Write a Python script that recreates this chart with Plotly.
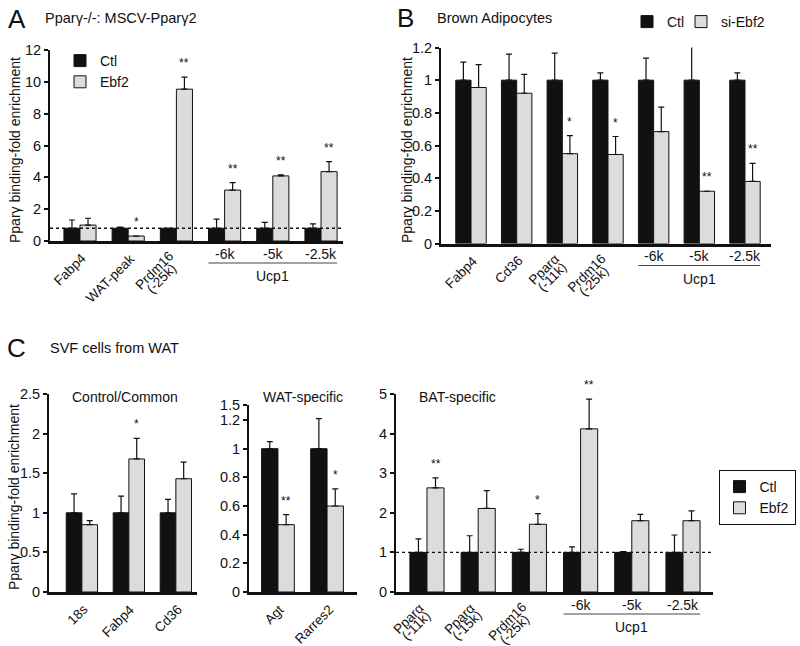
import plotly.graph_objects as go

# ---------------- data ----------------
A_cats = ["Fabp4", "WAT-peak", "Prdm16<br>(-25k)", "-6k", "-5k", "-2.5k"]
A_ctl = [0.8, 0.8, 0.8, 0.8, 0.8, 0.8]
A_ctl_err = [0.52, 0.07, 0.0, 0.58, 0.37, 0.27]
A_ebf = [1.0, 0.31, 9.54, 3.2, 4.09, 4.36]
A_ebf_err = [0.43, 0.0, 0.75, 0.47, 0.06, 0.63]
A_sig = ["", "*", "**", "**", "**", "**"]
A_base = 0.8

B_cats = ["Fabp4", "Cd36", "Pparα<br>(-11k)", "Prdm16<br>(-25k)", "-6k", "-5k", "-2.5k"]
B_ctl = [1, 1, 1, 1, 1, 1, 1]
B_ctl_err = [0.11, 0.16, 0.165, 0.045, 0.135, 0.21, 0.045]
B_ebf = [0.955, 0.92, 0.55, 0.545, 0.685, 0.32, 0.38]
B_ebf_err = [0.14, 0.115, 0.11, 0.11, 0.15, 0.0, 0.11]
B_sig = ["", "", "*", "*", "", "**", "**"]

C1_cats = ["18s", "Fabp4", "Cd36"]
C1_ctl = [1, 1, 1]
C1_ctl_err = [0.24, 0.21, 0.17]
C1_ebf = [0.85, 1.68, 1.43]
C1_ebf_err = [0.05, 0.26, 0.21]
C1_sig = ["", "*", ""]

C2_cats = ["Agt", "Rarres2"]
C2_ctl = [1, 1]
C2_ctl_err = [0.05, 0.21]
C2_ebf = [0.47, 0.6]
C2_ebf_err = [0.07, 0.12]
C2_sig = ["**", "*"]

C3_cats = ["Pparα<br>(-11k)", "Pparα<br>(-15k)", "Prdm16<br>(-25k)", "-6k", "-5k", "-2.5k"]
C3_ctl = [1, 1, 1, 1, 1, 1]
C3_ctl_err = [0.34, 0.42, 0.08, 0.14, 0.02, 0.44]
C3_ebf = [2.63, 2.11, 1.71, 4.12, 1.8, 1.8]
C3_ebf_err = [0.25, 0.45, 0.27, 0.75, 0.16, 0.25]
C3_sig = ["**", "", "*", "**", "", ""]
C3_base = 1.0

A_ticks = [0, 2, 4, 6, 8, 10, 12]
A_ticktext = ["0", "2", "4", "6", "8", "10", "12"]
B_ticks = [0, 0.2, 0.4, 0.6, 0.8, 1.0, 1.2]
B_ticktext = ["0", "0.2", "0.4", "0.6", "0.8", "1", "1.2"]
C1_ticks = [0, 0.5, 1, 1.5, 2, 2.5]
C1_ticktext = ["0", "0.5", "1", "1.5", "2", "2.5"]
C2_ticks = [0, 0.2, 0.4, 0.6, 0.8, 1.0, 1.2, 1.305]
C2_ticktext = ["0", "0.2", "0.4", "0.6", "0.8", "1", "1.2", "1.5"]
C3_ticks = [0, 1, 2, 3, 4, 5]
C3_ticktext = ["0", "1", "2", "3", "4", "5"]

YTITLE = "Ppar\u03b3 binding-fold enrichment"

# ---------------- styling ----------------
W, H = 800, 646
FONT = "Liberation Sans, Arial, sans-serif"
BLACK = "#111111"
GRAY = "#dcdcdc"
LBL = 13.5

CHAR_W = {"P": .667, "r": .333, "d": .556, "m": .833, "(": .333, ")": .333,
          "-": .333, "k": .5, "p": .556, "a": .556, "\u03b1": .6}


def text_w(s, size):
    return sum(CHAR_W.get(ch, .556) for ch in s) * size


def fx(px):
    return px / W


def fy(py):
    return 1 - py / H


fig = go.Figure()

panels = [
    ("", A_cats, A_ctl, A_ctl_err, A_ebf, A_ebf_err, A_sig, ("legend", "legend"), "Ebf2",
     (50, 343), (241, 50), [-0.622, 5.456], [0, 12], A_ticks, A_ticktext),
    ("2", B_cats, B_ctl, B_ctl_err, B_ebf, B_ebf_err, B_sig, ("legend2", "legend4"), "si-Ebf2",
     (441, 771), (243.5, 47.5), [-0.657, 6.57], [0, 1.2], B_ticks, B_ticktext),
    ("3", C1_cats, C1_ctl, C1_ctl_err, C1_ebf, C1_ebf_err, C1_sig, ("legend3", "legend3"), "Ebf2",
     (49, 197), (592, 394), [-0.70, 2.45], [0, 2.5], C1_ticks, C1_ticktext),
    ("4", C2_cats, C2_ctl, C2_ctl_err, C2_ebf, C2_ebf_err, C2_sig, None, "Ebf2",
     (249, 357), (592, 405), [-0.59, 1.61], [0, 1.305], C2_ticks, C2_ticktext),
    ("5", C3_cats, C3_ctl, C3_ctl_err, C3_ebf, C3_ebf_err, C3_sig, None, "Ebf2",
     (396, 713), (592, 394), [-0.605, 5.586], [0, 5], C3_ticks, C3_ticktext),
]

annotations = []
shapes = []
lblfont = dict(family=FONT, size=LBL, color=BLACK)

for (sfx, cats, ctl, ctl_err, ebf, ebf_err, sig, leg, ebf_name,
     xd, yd, xr, yr, ticks, ticktext) in panels:
    xs = list(range(len(cats)))
    xa = "x" + sfx
    ya = "y" + sfx
    show = leg is not None
    legs = leg if leg else ("legend", "legend")
    fig.add_trace(go.Bar(
        x=xs, y=ctl, name="Ctl", xaxis=xa, yaxis=ya,
        marker=dict(color=BLACK, line=dict(color=BLACK, width=1)),
        error_y=dict(type="data", symmetric=False, array=ctl_err,
                     arrayminus=[0] * len(ctl), color=BLACK, thickness=1.2, width=3),
        showlegend=show, legend=legs[0],
    ))
    fig.add_trace(go.Bar(
        x=xs, y=ebf, name=ebf_name, xaxis=xa, yaxis=ya,
        marker=dict(color=GRAY, line=dict(color=BLACK, width=1)),
        error_y=dict(type="data", symmetric=False, array=ebf_err,
                     arrayminus=[0] * len(ebf), color=BLACK, thickness=1.2, width=3),
        showlegend=show, legend=legs[1],
    ))
    fig.layout["xaxis" + sfx] = dict(
        domain=[fx(xd[0]), fx(xd[1])], range=xr, anchor=ya,
        showticklabels=False, ticks="", showgrid=False, zeroline=False,
        showline=True, linecolor=BLACK, linewidth=2.5, fixedrange=True,
    )
    fig.layout["yaxis" + sfx] = dict(
        domain=[fy(yd[0]), fy(yd[1])], range=yr, anchor=xa,
        tickvals=ticks, ticktext=ticktext, ticks="outside", ticklen=4,
        tickwidth=1.5, tickcolor=BLACK, showgrid=False, zeroline=False,
        showline=True, linecolor=BLACK, linewidth=2,
        tickfont=dict(family=FONT, size=14.5, color=BLACK),
    )
    for i, s in enumerate(sig):
        if s:
            annotations.append(dict(
                x=i + 1 / 6, y=ebf[i] + ebf_err[i], xref=xa, yref=ya,
                text=s, showarrow=False, yanchor="bottom", yshift=5,
                font=dict(family=FONT, size=12, color=BLACK),
            ))
    b = yd[0]
    sub = [i for i, c in enumerate(cats) if c.startswith("-")]
    for i, c in enumerate(cats):
        if c.startswith("-"):
            annotations.append(dict(
                x=i, y=fy(b + 13), xref=xa, yref="paper", text=c,
                showarrow=False, yanchor="middle", xanchor="center",
                font=dict(family=FONT, size=14, color=BLACK),
            ))
        elif "<br>" not in c:
            annotations.append(dict(
                x=i, y=fy(b), xref=xa, yref="paper", text=c, showarrow=False,
                yanchor="top", xanchor="right", textangle=-45,
                xshift=12, yshift=-7, font=lblfont,
            ))
        else:
            l1, l2 = c.split("<br>")
            d = (text_w(l1, LBL) - text_w(l2, LBL)) / 2 * 0.707
            for line, dx, dy in ((l1, 3, 5), (l2, 3 + 7 - d, 5 + 8 + d)):
                annotations.append(dict(
                    x=i, y=fy(b), xref=xa, yref="paper", text=line,
                    showarrow=False, yanchor="top", xanchor="right",
                    textangle=-45, xshift=dx, yshift=-dy, font=lblfont,
                ))
    if sub:
        shapes.append(dict(
            type="line", xref=xa, yref="paper",
            x0=sub[0] - 1 / 3, x1=sub[-1] + 1 / 3,
            y0=fy(b + 22), y1=fy(b + 22),
            line=dict(color="#444444", width=1),
        ))
        annotations.append(dict(
            x=sub[len(sub) // 2], y=fy(b + 35), xref=xa, yref="paper",
            text="Ucp1", showarrow=False, yanchor="middle",
            font=dict(family=FONT, size=14, color=BLACK),
        ))

shapes.append(dict(type="line", xref="x domain", yref="y", x0=0, x1=1,
                   y0=A_base, y1=A_base, layer="above",
                   line=dict(color=BLACK, width=1.3, dash="3px,3px")))
shapes.append(dict(type="line", xref="x5 domain", yref="y5", x0=0, x1=1,
                   y0=C3_base, y1=C3_base, layer="above",
                   line=dict(color=BLACK, width=1.3, dash="3px,3px")))


def txt(x, y, s, size, xanchor="left", angle=0):
    annotations.append(dict(x=fx(x), y=fy(y), xref="paper", yref="paper",
                            text=s, showarrow=False, xanchor=xanchor,
                            yanchor="middle", textangle=angle,
                            font=dict(family=FONT, size=size, color=BLACK)))


txt(17, 19, "A", 26, "center")
txt(43, 18, "Ppar\u03b3-/-: MSCV-Ppar\u03b32", 14.5)
txt(406, 18, "B", 26, "center")
txt(435, 18, "Brown Adipocytes", 14.5)
txt(16, 348, "C", 26, "center")
txt(48, 348, "SVF cells from WAT", 14.5)
txt(125, 397, "Control/Common", 14, "center")
txt(303, 397, "WAT-specific", 14, "center")
txt(417, 397, "BAT-specific", 14)
txt(15, 150, YTITLE, 14, "center", -90)
txt(407, 150, YTITLE, 14, "center", -90)
txt(14, 497, YTITLE, 14, "center", -90)

legfont = dict(family=FONT, size=14, color=BLACK)
noBg = "rgba(0,0,0,0)"
fig.update_layout(
    width=W, height=H, margin=dict(l=0, r=0, t=0, b=0, autoexpand=False),
    paper_bgcolor="white", plot_bgcolor="white",
    barmode="group", bargap=1 / 3, bargroupgap=0,
    annotations=annotations, shapes=shapes,
    legend=dict(x=fx(60), y=fy(45), xanchor="left", yanchor="top",
                bgcolor=noBg, font=legfont),
    legend2=dict(x=fx(627), y=fy(6), xanchor="left", yanchor="top",
                 bgcolor=noBg, font=legfont),
    legend4=dict(x=fx(681), y=fy(6), xanchor="left", yanchor="top",
                 bgcolor=noBg, font=legfont),
    legend3=dict(x=fx(757), y=fy(470), xanchor="center", yanchor="top",
                 bgcolor="white", bordercolor=BLACK, borderwidth=1, font=legfont),
    font=dict(family=FONT, color=BLACK),
)

fig.write_html("out.html", config={"displayModeBar": False},
               post_script="document.body.style.margin='0px';")
